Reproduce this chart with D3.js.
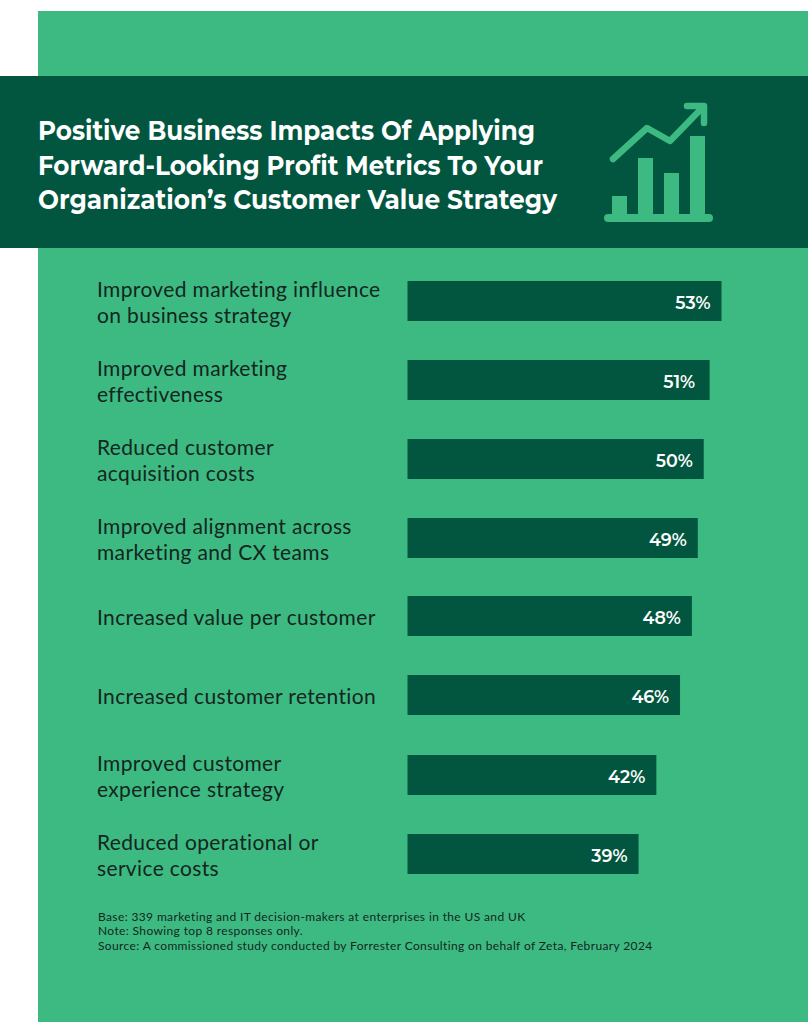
<!DOCTYPE html>
<html><head><meta charset="utf-8"><style>html,body{margin:0;padding:0;background:#fff}svg{display:block}</style>
<script src="https://cdn.jsdelivr.net/npm/d3@7/dist/d3.min.js"></script></head><body><svg id="c" width="808" height="1024"></svg>
<script>
const labels=[["Improved marketing influence","on business strategy"],["Improved marketing","effectiveness"],["Reduced customer","acquisition costs"],["Improved alignment across","marketing and CX teams"],["Increased value per customer"],["Increased customer retention"],["Improved customer","experience strategy"],["Reduced operational or","service costs"]];
const values=[53,51,50,49,48,46,42,39];
const titleLines=["Positive Business Impacts Of Applying","Forward-Looking Profit Metrics To Your","Organization’s Customer Value Strategy"];
const notes=["Base: 339 marketing and IT decision-makers at enterprises in the US and UK","Note: Showing top 8 responses only.","Source: A commissioned study conducted by Forrester Consulting on behalf of Zeta, February 2024"];
const G="#3dba82",D="#02563f",F="Montserrat,Lato,sans-serif",L="Lato,sans-serif";
const svg=d3.select("#c");
svg.append("rect").attr("x",38).attr("y",11).attr("width",770).attr("height",1011).attr("fill",G);
svg.append("rect").attr("x",0).attr("y",76).attr("width",808).attr("height",172).attr("fill",D);
svg.append("g").selectAll("text").data(titleLines).join("text").attr("x",38).attr("y",(d,i)=>140+i*34.5).attr("fill","#fff").attr("font-family",F).attr("font-weight",700).attr("font-size",26.5).attr("textLength",(d,i)=>[497,505,519][i]).attr("lengthAdjust","spacingAndGlyphs").text(d=>d);
const x=d3.scaleLinear().domain([0,53]).range([407.5,721.5]);
const y=d3.scaleOrdinal().domain(d3.range(8)).range([301,380,459,538,616,695,775,854]);
const inset=[11,14.5,11,11,11,11,11,11];
const rows=svg.append("g").selectAll("g").data(values).join("g");
rows.append("rect").attr("x",x(0)).attr("y",(d,i)=>y(i)-20).attr("width",d=>x(d)-x(0)).attr("height",40).attr("fill",D);
rows.append("text").attr("x",(d,i)=>x(d)-inset[i]).attr("y",(d,i)=>y(i)+7.5).attr("text-anchor","end").attr("fill","#fff").attr("font-family",F).attr("font-weight",600).attr("font-size",17.5).text(d=>d+"%");
rows.each(function(d,i){const l=labels[i];d3.select(this).selectAll("text.l").data(l).join("text").attr("class","l").attr("x",97).attr("y",(t,j)=>y(i)+8.5-(l.length-1)*13+j*26).attr("fill","#13261f").attr("font-family",L).attr("font-size",21).attr("letter-spacing",0.35).text(t=>t);});
svg.append("g").selectAll("text").data(notes).join("text").attr("x",98).attr("y",(d,i)=>921+i*14.4).attr("fill","#12271f").attr("font-family",L).attr("font-size",12).attr("letter-spacing",0.37).text(d=>d);
const ic=svg.append("g");
const ix=d3.scalePoint().domain(d3.range(4)).range([612,690]);
const ih=[18,56,41,78];
ic.selectAll("rect.b").data(ih).join("rect").attr("class","b").attr("x",(d,i)=>ix(i)).attr("y",d=>214-d).attr("width",15).attr("height",d=>d+2).attr("fill",G);
ic.append("rect").attr("x",604).attr("y",214).attr("width",109).attr("height",8).attr("rx",4).attr("fill",G);
ic.append("path").attr("d","M613 159L647 128L670 141L703 107").attr("fill","none").attr("stroke",G).attr("stroke-width",6.5).attr("stroke-linecap","round").attr("stroke-linejoin","round");
ic.append("path").attr("d","M687 106H704V123").attr("fill","none").attr("stroke",G).attr("stroke-width",6.5).attr("stroke-linecap","round").attr("stroke-linejoin","round");
</script></body></html>
